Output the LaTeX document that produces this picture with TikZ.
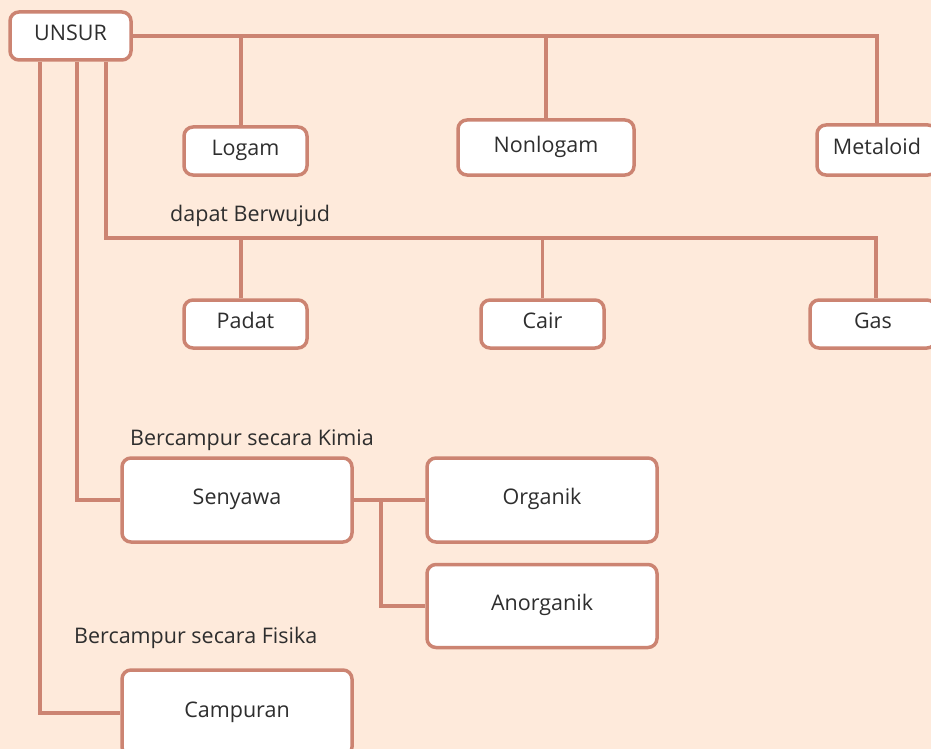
\documentclass[tikz,border=0pt]{standalone}
\usepackage{fontspec}
\setmainfont{Open Sans}
\usetikzlibrary{backgrounds}
\definecolor{bgc}{HTML}{FEEADB}
\definecolor{lnc}{HTML}{CC8472}
\definecolor{txc}{HTML}{2E2E2E}
\begin{document}
\begin{tikzpicture}[x=1pt,y=-1pt,
  box/.style={draw=lnc,line width=3.5pt,fill=white,rounded corners=9pt,text=txc,font=\fontsize{21.5}{24}\selectfont,inner sep=0pt,text height=12pt,text depth=3pt},
  ln/.style={draw=lnc,line width=3.5pt},
  lbl/.style={text=txc,font=\fontsize{21.5}{24}\selectfont,anchor=west,inner sep=0pt}]
\useasboundingbox (0,0) rectangle (931,749);
\begin{scope}
\clip (0,0) rectangle (931,749);
\node[box,minimum width=121pt,minimum height=48pt] (unsur) at (70.5,36) {UNSUR};
\node[box,minimum width=123pt,minimum height=48pt] (logam) at (245.5,151) {Logam};
\node[box,minimum width=176pt,minimum height=55pt] (nonlogam) at (546,147.5) {Nonlogam};
\node[box,minimum width=120pt,minimum height=50pt] (metaloid) at (877,150) {Metaloid};
\node[box,minimum width=123pt,minimum height=48pt] (padat) at (245.5,324) {Padat};
\node[box,minimum width=123pt,minimum height=48pt] (cair) at (542.5,324) {Cair};
\node[box,minimum width=126pt,minimum height=48pt] (gas) at (873,324) {Gas};
\node[box,minimum width=230pt,minimum height=84pt] (senyawa) at (237,500) {Senyawa};
\node[box,minimum width=230pt,minimum height=84pt] (organik) at (542,500) {Organik};
\node[box,minimum width=230pt,minimum height=83pt] (anorganik) at (542,606) {Anorganik};
\node[box,minimum width=230pt,minimum height=86pt] (campuran) at (237,713) {Campuran};
\node[lbl] (lwujud) at (170,216) {dapat Berwujud};
\node[lbl] (lkimia) at (130,440) {Bercampur secara Kimia};
\node[lbl] (lfisika) at (74,638) {Bercampur secara Fisika};
\coordinate (jw) at (106,238);
\coordinate (jk) at (77,0);
\coordinate (jf) at (40,0);
\coordinate (js) at (381,0);
\coordinate (jl) at (241,0);
\coordinate (jg) at (876,0);
\begin{scope}[on background layer]
\fill[bgc] (0,0) rectangle (931,749);
\draw[ln] (unsur.east) -| (metaloid.north);
\draw[ln] (logam.north -| jl) -- (jl |- unsur.east);
\draw[ln] (nonlogam.north) -- (nonlogam.north |- unsur.east);
\draw[ln] (unsur.south -| jw) -- (jw) -| (gas.north -| jg);
\draw[ln] (padat.north -| jl) -- (jl |- jw);
\draw[ln] (cair.north) -- (cair.north |- jw);
\draw[ln] (unsur.south -| jk) |- (senyawa.west);
\draw[ln] (unsur.south -| jf) |- (campuran.west);
\draw[ln] (senyawa.east) -- (organik.west);
\draw[ln] (senyawa.east -| js) |- (anorganik.west);
\end{scope}
\end{scope}
\end{tikzpicture}
\end{document}
